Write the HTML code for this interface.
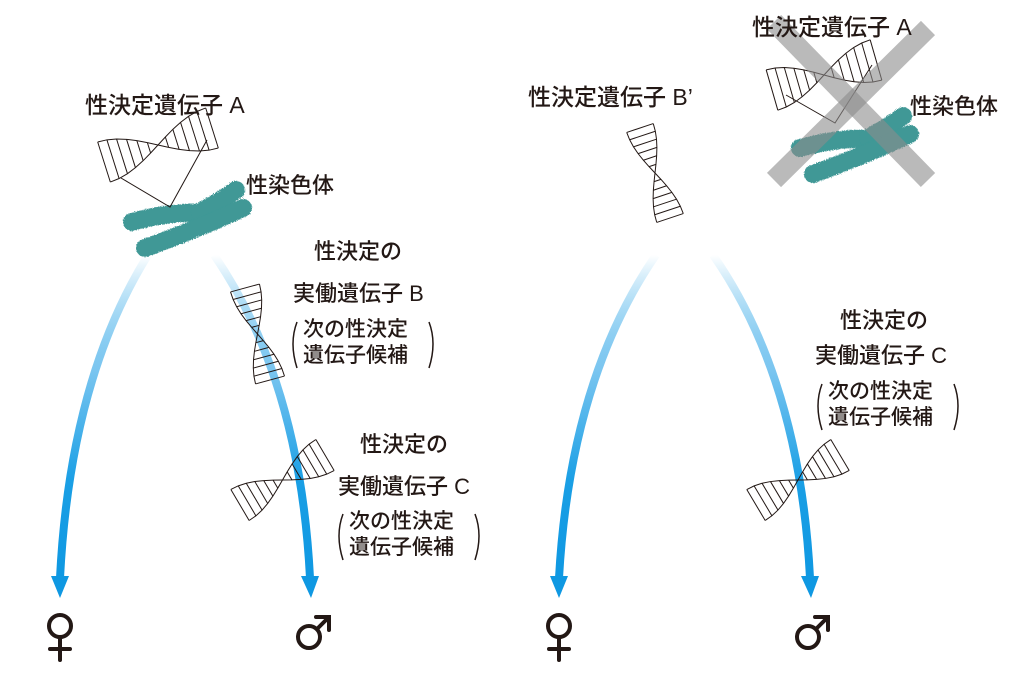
<!DOCTYPE html>
<html><head><meta charset="utf-8"><style>
html,body{margin:0;padding:0;background:#fff;}
svg{display:block}
text{font-family:"Liberation Sans","Noto Sans CJK JP",sans-serif;fill:#231815;font-size:22px;font-weight:500;}
</style></head><body>
<svg id="s" width="1024" height="680" viewBox="0 0 1024 680" xmlns="http://www.w3.org/2000/svg">
<defs>
<linearGradient id="g" x1="0" y1="0" x2="0" y2="1">
<stop offset="0" stop-color="#1a9fe5" stop-opacity="0"/>
<stop offset="0.35" stop-color="#7cc6f0"/>
<stop offset="0.7" stop-color="#1a9fe5"/>
<stop offset="1" stop-color="#0f98e2"/>
</linearGradient>
<filter id="fz"><feTurbulence type="fractalNoise" baseFrequency="0.9" numOctaves="2" result="n"/><feDisplacementMap in="SourceGraphic" in2="n" scale="3"/></filter>
</defs>
<g fill="none" stroke-width="8">
<path d="M148 255 Q70 380 60 578" stroke="url(#g)"/>
<path d="M214 255 Q300 380 310 578" stroke="url(#g)"/>
<path d="M656 255 Q570 380 559 578" stroke="url(#g)"/>
<path d="M713 255 Q800 380 810 578" stroke="url(#g)"/>
</g>
<g fill="#0f98e2">
<path d="M51 576 L69 576 L60 598Z"/>
<path d="M301 576 L319 576 L311 598Z"/>
<path d="M550 576 L568 576 L559 598Z"/>
<path d="M801 576 L819 576 L811 598Z"/>
</g>
<g stroke="#3f9896" stroke-linecap="round" fill="none" filter="url(#fz)">
<path d="M132 222 Q170 211 205 213" stroke-width="18"/>
<path d="M200 212 Q222 200 236 190" stroke-width="18"/>
<path d="M145 248 Q200 228 243 208" stroke-width="18"/>
<path d="M800 148 Q840 137 872 139" stroke-width="18"/>
<path d="M868 138 Q890 126 903 116" stroke-width="18"/>
<path d="M813 174 Q868 154 910 134" stroke-width="18"/>
</g>
<g id="dna" stroke="#231815" stroke-width="1" fill="none"></g>
<g stroke="#231815" stroke-width="1" fill="none">
<path d="M121 178 L170 207 L207 140"/>
<path d="M786 95 L835 123 L872 65"/>
</g>
<g stroke="#8c8c8c" stroke-opacity="0.6" stroke-width="20">
<line x1="774" y1="22" x2="928" y2="180"/>
<line x1="928" y1="28" x2="774" y2="180"/>
</g>
<text x="85" y="113" style="font-size:23px">性決定遺伝子 A</text>
<text x="246" y="193">性染色体</text>
<text x="314" y="259">性決定の</text>
<text x="293" y="301">実働遺伝子 B</text>
<text x="303" y="336" style="font-size:21px">次の性決定</text>
<text x="303" y="362" style="font-size:21px">遺伝子候補</text>
<text x="360" y="452">性決定の</text>
<text x="338" y="494">実働遺伝子 C</text>
<text x="349" y="528" style="font-size:21px">次の性決定</text>
<text x="349" y="554" style="font-size:21px">遺伝子候補</text>
<text x="528" y="105" style="font-size:23px">性決定遺伝子 B’</text>
<text x="752" y="35" style="font-size:23px">性決定遺伝子 A</text>
<text x="910" y="114">性染色体</text>
<text x="840" y="328">性決定の</text>
<text x="815" y="363">実働遺伝子 C</text>
<text x="828" y="398" style="font-size:21px">次の性決定</text>
<text x="828" y="424" style="font-size:21px">遺伝子候補</text>
<g fill="none" stroke="#231815" stroke-width="1.5">
<path d="M297 322 Q289 343 297 368"/><path d="M429 322 Q437 343 429 368"/>
<path d="M343 514 Q335 535 343 560"/><path d="M475 514 Q483 535 475 560"/>
<path d="M822 384 Q814 405 822 430"/><path d="M954 384 Q962 405 954 430"/>
</g>
<g fill="none" stroke="#231815" stroke-width="4" stroke-linecap="round">
<circle cx="60" cy="626" r="11"/><path d="M60 637 V660 M50 649 H70"/>
<circle cx="559" cy="626" r="11"/><path d="M559 637 V660 M549 649 H569"/>
<circle cx="309" cy="637" r="11"/><path d="M317 629 L328 618 M316 617 H329 V630"/>
<circle cx="808" cy="637" r="11"/><path d="M816 629 L827 618 M815 617 H828 V630"/>
</g>
</svg>
<script>
(function(){
var g=document.getElementById('dna'),ns='http://www.w3.org/2000/svg';
function helix(x0,y0,x1,y1,w,n){
 var dx=x1-x0,dy=y1-y0,L=Math.hypot(dx,dy),px=-dy/L,py=dx/L,a=[],b=[],i,N=n;
 for(i=0;i<=N;i++){var t=i/N,c=w/2*Math.cos(Math.PI*t),x=x0+dx*t,y=y0+dy*t;
  a.push([x+px*c,y+py*c]);b.push([x-px*c,y-py*c]);}
 function pl(p){var e=document.createElementNS(ns,'polyline');e.setAttribute('points',p.map(function(q){return q.join(',')}).join(' '));g.appendChild(e);}
 pl(a);pl(b);
 for(i=0;i<=N;i++){var e=document.createElementNS(ns,'line');e.setAttribute('x1',a[i][0]);e.setAttribute('y1',a[i][1]);e.setAttribute('x2',b[i][0]);e.setAttribute('y2',b[i][1]);g.appendChild(e);}
}
helix(104,162,212,128,42,12);
helix(245,288,270,380,30,12);
helix(240,505,325,455,36,12);
helix(640,128,670,218,28,12);
helix(756,505,840,455,36,12);
helix(772,90,876,60,42,12);
})();
</script>
</body></html>
